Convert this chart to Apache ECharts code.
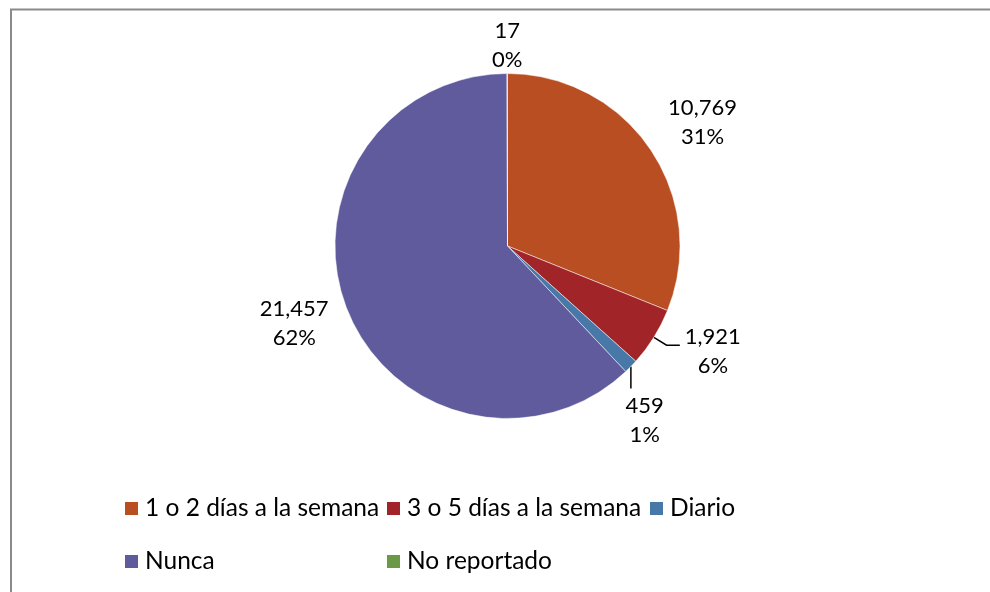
<!DOCTYPE html>
<html>
<head>
<meta charset="utf-8">
<title>Frecuencia</title>
<script src="https://cdn.jsdelivr.net/npm/echarts@6/dist/echarts.min.js"></script>
<style>
  html, body { margin: 0; padding: 0; background: #fff; }
  #chart { width: 990px; height: 592px; }
</style>
</head>
<body>
<div id="chart"></div>
<script>
var categories = ['1 o 2 días a la semana', '3 o 5 días a la semana', 'Diario', 'Nunca', 'No reportado'];
var counts = [10769, 1921, 459, 21457, 17];
var colors = ['#B84E22', '#A12428', '#4878A8', '#5F5B9C', '#6A9A48'];

// label placement relative to each slice (radius in px, angle shift in degrees)
var labelDist = [231, 231, 222, 227, 201];
var labelShift = [1.6, -4.7, 7.5, 1.7, 0];
var leader = ['none', 'elbow', 'vertical', 'none', 'none'];

var cx = 507.5, cy = 246, R = 172.5;
var font = 'Lato';

var total = counts.reduce(function (a, b) { return a + b; }, 0);
var midAngles = [];
var acc = 0;
counts.forEach(function (v) {
  midAngles.push((acc + v / 2) / total * 360);
  acc += v;
});
function pt(angleDeg, r) {
  var a = angleDeg * Math.PI / 180;
  return [cx + r * Math.sin(a), cy - r * Math.cos(a)];
}

var chart = echarts.init(document.getElementById('chart'));

var legendPos = [[123, 496], [385, 496], [648, 496], [123, 549], [385, 549]];
var legends = categories.map(function (name, i) {
  return {
    data: [name],
    left: legendPos[i][0],
    top: legendPos[i][1],
    padding: 0,
    icon: 'rect',
    itemWidth: 15,
    itemHeight: 15,
    selectedMode: false,
    textStyle: { fontFamily: font, fontSize: 24.5, color: '#000', padding: [0, 0, 0, 1] }
  };
});

chart.setOption({
  animation: false,
  color: colors,
  graphic: [{
    type: 'rect',
    shape: { x: 11, y: 9.5, width: 1200, height: 1000 },
    style: { fill: 'none', stroke: '#8a8a8a', lineWidth: 2 },
    silent: true
  }],
  legend: legends,
  series: [{
    type: 'pie',
    center: [cx, cy],
    radius: R,
    startAngle: 90,
    clockwise: true,
    avoidLabelOverlap: false,
    itemStyle: { borderColor: '#fff', borderWidth: 0.5 },
    label: {
      show: true,
      position: 'outside',
      fontFamily: font,
      fontSize: 22,
      lineHeight: 29,
      color: '#000',
      formatter: function (p) {
        return p.value.toLocaleString('en-US') + '\n' + Math.round(p.percent) + '%';
      }
    },
    labelLine: { show: true, lineStyle: { color: '#000', width: 1.5 } },
    labelLayout: function (p) {
      var i = p.dataIndex;
      var c = pt(midAngles[i] + labelShift[i], labelDist[i]);
      var w = p.labelRect.width, h = p.labelRect.height;
      var res = { x: c[0], y: c[1], align: 'center', verticalAlign: 'middle' };
      var s = pt(midAngles[i], R);
      if (leader[i] === 'elbow') {
        var e = pt(midAngles[i], R + 15);
        res.labelLinePoints = [s, e, [c[0] - w / 2 - 5, e[1]]];
      } else if (leader[i] === 'vertical') {
        res.labelLinePoints = [s, [s[0], (s[1] + c[1] - h / 2 - 3) / 2], [s[0], c[1] - h / 2 - 3]];
      }
      return res;
    },
    data: categories.map(function (name, i) {
      return { name: name, value: counts[i], labelLine: { show: leader[i] !== 'none' } };
    })
  }]
});
</script>
</body>
</html>
